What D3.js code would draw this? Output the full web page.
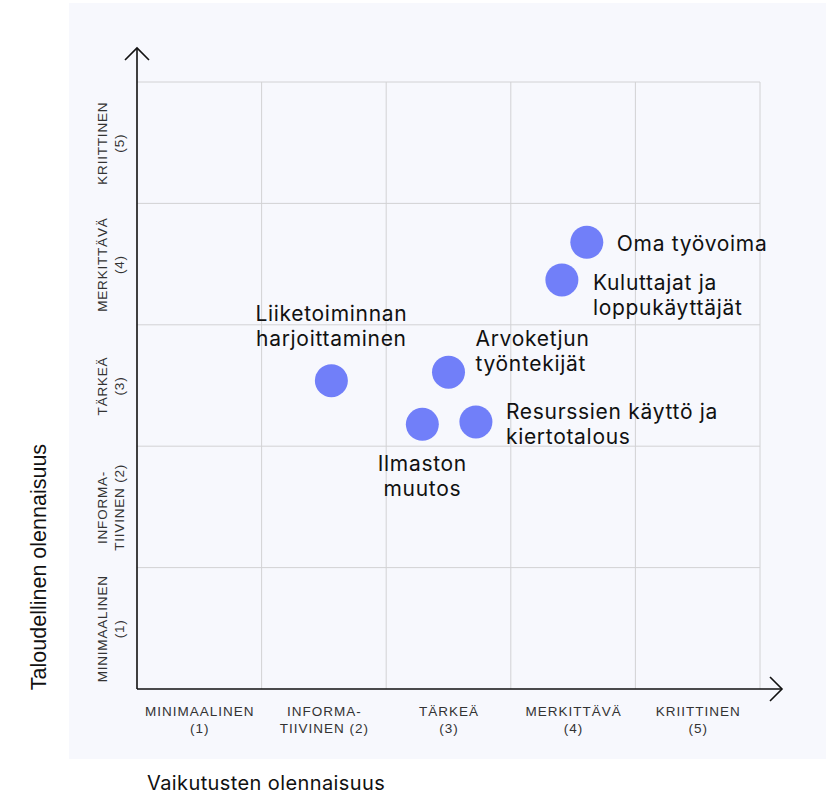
<!DOCTYPE html>
<html><head><meta charset="utf-8">
<script src="https://cdn.jsdelivr.net/npm/d3@7"></script>
<style>
html,body{margin:0;padding:0;background:#fff;}
svg{display:block;}
</style></head>
<body>
<script>
// ---- data ----
const levels = [1, 2, 3, 4, 5];
const xTickLabels = [["MINIMAALINEN","(1)"],["INFORMA-","TIIVINEN (2)"],["TÄRKEÄ","(3)"],["MERKITTÄVÄ","(4)"],["KRIITTINEN","(5)"]];
const yTickLabels = [["MINIMAALINEN","(1)"],["INFORMA-","TIIVINEN (2)"],["TÄRKEÄ","(3)"],["MERKITTÄVÄ","(4)"],["KRIITTINEN","(5)"]];
const topicNames = [
  ["Liiketoiminnan","harjoittaminen"],
  ["Arvoketjun","työntekijät"],
  ["Ilmaston","muutos"],
  ["Resurssien käyttö ja","kiertotalous"],
  ["Oma työvoima"],
  ["Kuluttajat ja","loppukäyttäjät"]
];
const impactValues    = [2.06, 3.00, 2.79, 3.22, 4.11, 3.91];
const financialValues = [3.04, 3.11, 2.68, 2.70, 4.18, 3.87];
const xTitle = "Vaikutusten olennaisuus";
const yTitle = "Taloudellinen olennaisuus";

// ---- layout ----
const W = 833, H = 798;
const labelPlacement = [
  {anchor:"middle", dx:0,  dy:-68},
  {anchor:"start",  dx:27, dy:-34},
  {anchor:"middle", dx:0,  dy:39},
  {anchor:"start",  dx:30, dy:-11},
  {anchor:"start",  dx:30, dy:1},
  {anchor:"start",  dx:31, dy:2}
];
const lineH = 25;

const svg = d3.select("body").append("svg").attr("width", W).attr("height", H);
svg.append("rect").attr("x",69).attr("y",3).attr("width",757).attr("height",756).attr("fill","#f7f8fd");

const x = d3.scaleLinear().domain([0.5,5.5]).range([137,760]);
const y = d3.scaleLinear().domain([0.5,5.5]).range([689,82]);
const gridVals = [1.5,2.5,3.5,4.5,5.5];

const g = svg.append("g");
g.selectAll(".vg").data(gridVals).join("line")
  .attr("x1",d=>x(d)).attr("x2",d=>x(d)).attr("y1",y(0.5)).attr("y2",y(5.5))
  .attr("stroke","#d2d2d4").attr("stroke-width",1);
g.selectAll(".hg").data(gridVals).join("line")
  .attr("y1",d=>y(d)).attr("y2",d=>y(d)).attr("x1",x(0.5)).attr("x2",x(5.5))
  .attr("stroke","#d2d2d4").attr("stroke-width",1);

// axes with arrows
const ax = svg.append("g").attr("stroke","#111").attr("stroke-width",1.6).attr("fill","none");
ax.append("line").attr("x1",x(0.5)).attr("y1",y(0.5)).attr("x2",x(0.5)).attr("y2",48);
ax.append("path").attr("d",`M${x(0.5)-12},60 L${x(0.5)},48 L${x(0.5)+12},60`);
ax.append("line").attr("x1",x(0.5)).attr("y1",y(0.5)).attr("x2",782).attr("y2",y(0.5));
ax.append("path").attr("d",`M770,${y(0.5)-12} L782,${y(0.5)} L770,${y(0.5)+12}`);

// x tick labels via d3 axis
const xAxis = d3.axisBottom(x).tickValues(levels).tickSize(0).tickFormat("");
const xg = svg.append("g").attr("transform",`translate(0,${y(0.5)})`).call(xAxis);
xg.select(".domain").remove();
xg.selectAll(".tick").each(function(d,i){
  const t = d3.select(this).append("text")
    .attr("text-anchor","middle").attr("fill","#333")
    .style("font-family","'Liberation Sans', Arial, sans-serif").style("font-size","13.5px")
    .style("letter-spacing","1px");
  xTickLabels[i].forEach((s,k)=>t.append("tspan").attr("x",0).attr("y",27+k*17).text(s));
});

const yAxis = d3.axisLeft(y).tickValues(levels).tickSize(0).tickFormat("");
const yg = svg.append("g").attr("transform",`translate(${x(0.5)},0)`).call(yAxis);
yg.select(".domain").remove();
yg.selectAll(".tick").each(function(d,i){
  const t = d3.select(this).append("text")
    .attr("transform","rotate(-90)")
    .attr("text-anchor","middle").attr("fill","#333")
    .style("font-family","'Liberation Sans', Arial, sans-serif").style("font-size","13.5px")
    .style("letter-spacing","0.8px");
  yTickLabels[i].forEach((s,k)=>t.append("tspan").attr("x",0).attr("y",-30+k*17).text(s));
});

// points
const pts = impactValues.map((v,i)=>({x:v, y:financialValues[i], name:topicNames[i], p:labelPlacement[i]}));
svg.append("g").selectAll("circle").data(pts).join("circle")
  .attr("cx",d=>x(d.x)).attr("cy",d=>y(d.y)).attr("r",16.5).attr("fill","#717ff9");

const lab = svg.append("g").style("font-family","Inter, 'Noto Sans', sans-serif").style("font-size","21px")
  .style("letter-spacing","0.7px").attr("fill","#111");
pts.forEach(d=>{
  const t = lab.append("text").attr("text-anchor",d.p.anchor).attr("dominant-baseline","central");
  d.name.forEach((s,k)=>t.append("tspan").attr("x",x(d.x)+d.p.dx).attr("y",y(d.y)+d.p.dy+k*lineH).text(s));
});

// axis titles
svg.append("text").attr("x",147).attr("y",790).attr("fill","#111")
  .style("font-family","Inter, sans-serif").style("font-size","20px").style("letter-spacing","0.4px").text(xTitle);
svg.append("text").attr("transform","translate(46,567) rotate(-90)").attr("text-anchor","middle").attr("fill","#111")
  .style("font-family","'Liberation Sans', Arial, sans-serif").style("font-size","21.5px").text(yTitle);
</script>
</body></html>
